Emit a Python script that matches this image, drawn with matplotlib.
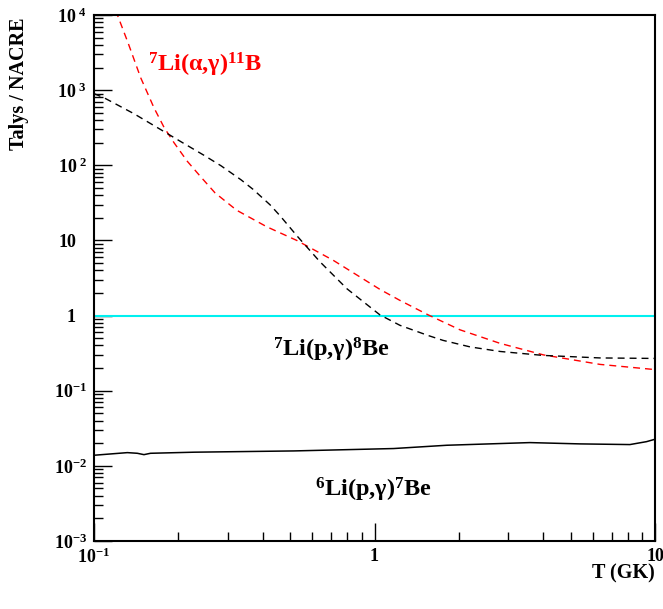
import matplotlib
matplotlib.use("Agg")
import matplotlib.pyplot as plt
from matplotlib.ticker import LogLocator, FixedLocator, NullFormatter
from matplotlib.transforms import ScaledTranslation

plt.rcParams['font.family'] = ['Liberation Serif', 'DejaVu Serif']
plt.rcParams['font.weight'] = 'bold'
plt.rcParams['mathtext.fontset'] = 'custom'
plt.rcParams['mathtext.rm'] = 'Liberation Serif:bold'
plt.rcParams['mathtext.bf'] = 'Liberation Serif:bold'
plt.rcParams['mathtext.it'] = 'Liberation Serif:bold'

# 7Li(alpha,gamma)11B  (red dashed)
T_li7ag = [0.1150, 0.1211, 0.1322, 0.1467, 0.1636, 0.1776, 0.1929, 0.2151, 0.2401, 0.2700,
           0.3227, 0.4129, 0.5282, 0.7131, 1.046, 1.233, 1.555, 2.018, 2.802, 3.998,
           6.367, 9.86, 10.0]
R_li7ag = [18600, 10090, 4276, 1463, 583, 321, 199.5, 113, 70.3, 43.0,
           25.2, 15.2, 10.0, 5.43, 2.23, 1.59, 1.02, 0.646, 0.427, 0.300,
           0.224, 0.192, 0.191]

# 7Li(p,gamma)8Be  (black dashed)
T_li7pg = [0.1, 0.1094, 0.1389, 0.1733, 0.2043, 0.2466, 0.2837, 0.3343, 0.3689, 0.4242,
           0.4605, 0.5292, 0.6394, 0.7980, 1.046, 1.233, 1.551, 1.754, 2.191, 2.802,
           3.988, 6.367, 9.84, 10.0]
R_li7pg = [900, 780, 485, 297, 205.6, 135.9, 98.5, 64.1, 47.9, 29.8,
           21.3, 11.5, 5.19, 2.27, 1.02, 0.741, 0.544, 0.468, 0.383, 0.333,
           0.295, 0.273, 0.269, 0.269]

# 6Li(p,gamma)7Be  (black solid)
T_li6pg = [0.1, 0.1315, 0.1427, 0.1507, 0.159, 0.2274, 0.5163, 1.17, 1.81, 3.58,
           5.40, 8.14, 9.33, 10.0]
R_li6pg = [0.01384, 0.0150, 0.0147, 0.0141, 0.0147, 0.0152, 0.0158, 0.0170, 0.0188, 0.0204,
           0.0196, 0.0192, 0.0210, 0.0226]

# unity reference (cyan)
T_ref = [0.1, 10.0]
R_ref = [1.0, 1.0]

ytick_vals = [1e-3, 1e-2, 1e-1, 1, 10, 1e2, 1e3, 1e4]
ytick_labels = [r'$10^{-3}$', r'$10^{-2}$', r'$10^{-1}$', '', '',
                r'$10^{\ 2}$', r'$10^{\ 3}$', r'$10^{\ 4}$']
yplain_vals = [1, 10]
yplain_labels = ['1', '10']
xtick_vals = [0.1, 1, 10]
xtick_labels = [r'$10^{-1}$', '1', '10']

fig = plt.figure(figsize=(6.63, 6.09), dpi=100)
ax = fig.add_axes([94/663, 1 - 541/609, (655-94)/663, (541-15)/609])
ax.set_xscale('log')
ax.set_yscale('log')
ax.set_xlim(0.1, 10)
ax.set_ylim(1e-3, 1e4)

ax.plot(T_ref, R_ref, color='#00f0f0', lw=1.5, solid_capstyle='butt')
ax.plot(T_li7ag, R_li7ag, color='red', lw=1.0, linestyle=(0, (5, 3.6)))
ax.plot(T_li7pg, R_li7pg, color='black', lw=1.0, linestyle=(0, (5, 3.6)))
ax.plot(T_li6pg, R_li6pg, color='black', lw=1.1)

ax.yaxis.set_major_locator(FixedLocator(ytick_vals))
ax.set_yticklabels(ytick_labels)
ax.xaxis.set_major_locator(FixedLocator(xtick_vals))
ax.set_xticklabels(xtick_labels)
ax.xaxis.set_minor_locator(LogLocator(base=10, subs=range(2, 10), numticks=20))
ax.yaxis.set_minor_locator(LogLocator(base=10, subs=range(2, 10), numticks=20))
ax.xaxis.set_minor_formatter(NullFormatter())
ax.yaxis.set_minor_formatter(NullFormatter())
ax.tick_params(which='both', direction='in', top=False, right=False, width=1.0)
ax.tick_params(which='major', length=12.7, labelsize=13, pad=5)
ax.tick_params(which='minor', length=6.3)
for s in ax.spines.values():
    s.set_linewidth(1.5)

plain_tr = ax.get_yaxis_transform() + ScaledTranslation(-18/100, 0, fig.dpi_scale_trans)
for v, lab in zip(yplain_vals, yplain_labels):
    ax.text(0, v, lab, transform=plain_tr, ha='right', va='center_baseline',
            fontsize=13, fontweight='bold')

ax.text(0.156, 1758, r'$^{7}$Li(α,γ)$^{11}$B', color='red', fontsize=17.5,
        fontweight='bold', ha='left', va='baseline')
ax.text(0.4335, 0.284, r'$^{7}$Li(p,γ)$^{8}$Be', color='black', fontsize=17.5,
        fontweight='bold', ha='left', va='baseline')
ax.text(0.614, 0.00389, r'$^{6}$Li(p,γ)$^{7}$Be', color='black', fontsize=17.5,
        fontweight='bold', ha='left', va='baseline')

fig.text(655/663, 1 - 578/609, 'T (GK)', fontsize=14.5, fontweight='bold',
         ha='right', va='baseline')
fig.text(19/663, 1 - 17/609, 'Talys / NACRE', fontsize=14.5, fontweight='bold',
         rotation=90, ha='center', va='top')

fig.savefig('out.png', dpi=100)
